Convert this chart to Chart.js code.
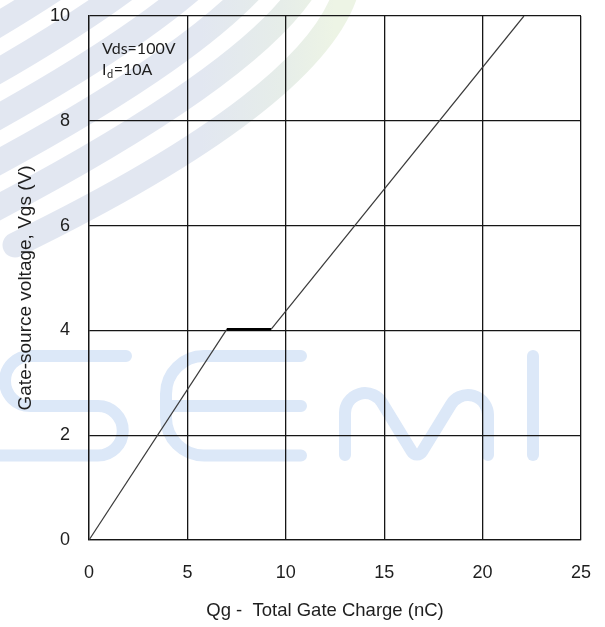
<!DOCTYPE html>
<html>
<head>
<meta charset="utf-8">
<script src="https://cdn.jsdelivr.net/npm/chart.js@4/dist/chart.umd.min.js"></script>
<style>
  html, body { margin: 0; padding: 0; background: #fff; }
  canvas { display: block; }
</style>
</head>
<body>
<canvas id="c" width="605" height="627"></canvas>
<script>
// Gate charge curve: Qg (nC) against Vgs (V), with the Miller plateau.
const gateCharge  = [0, 7.0, 9.25, 22.1];
const gateVoltage = [0, 4.02, 4.02, 10];
const xTicks = [0, 5, 10, 15, 20, 25];
const yTicks = [0, 2, 4, 6, 8, 10];
const xTitle = 'Qg -  Total Gate Charge (nC)';
const yTitle = 'Gate-source voltage, Vgs (V)';
const testLine1 = 'Vds=100V';
const testLine2 = ['I', 'd', '=10A'];

const FONT = '"Liberation Sans", Arial, sans-serif';
const INK = '#1e1e1e';
const GRID = '#161616';

// Faint company artwork behind the plot: swooshes and the "SEMI" letters.
const backdrop = {
  id: 'backdrop',
  beforeDraw(chart) {
    const ctx = chart.ctx;
    ctx.save();
    ctx.fillStyle = '#fff';
    ctx.fillRect(0, 0, chart.width, chart.height);

    const g = ctx.createLinearGradient(200, 0, 335, 0);
    g.addColorStop(0, '#e2e7f1');
    g.addColorStop(0.6, '#e6ede9');
    g.addColorStop(1, '#edf4e5');
    ctx.strokeStyle = g;
    ctx.lineWidth = 25;
    ctx.lineCap = 'round';
    for (let k = 0; k < 7; k++) {
      const dx = -28 * k, dy = -30 * k;
      const sx = k === 0 ? 15 : -90, sy = k === 0 ? 245 : 296;
      ctx.beginPath();
      ctx.moveTo(sx + dx, sy + dy);
      ctx.quadraticCurveTo(317 + dx, 98 + dy, 347 + dx, -12 + dy);
      ctx.stroke();
    }

    ctx.strokeStyle = '#dce8f8';
    ctx.lineWidth = 12;
    ctx.lineJoin = 'round';
    // S
    ctx.beginPath();
    ctx.moveTo(126, 356);
    ctx.lineTo(30, 356);
    ctx.arcTo(5, 356, 5, 381, 25);
    ctx.arcTo(5, 406, 30, 406, 25);
    ctx.lineTo(98, 406);
    ctx.arc(98, 430.75, 24.75, -Math.PI / 2, Math.PI / 2);
    ctx.lineTo(-10, 455.5);
    ctx.stroke();
    // E
    ctx.beginPath();
    ctx.moveTo(301, 356);
    ctx.arcTo(166, 356, 166, 406, 38);
    ctx.arcTo(166, 455.5, 301, 455.5, 38);
    ctx.lineTo(301, 455.5);
    ctx.moveTo(168, 406);
    ctx.lineTo(301, 406);
    ctx.stroke();
    // M
    ctx.beginPath();
    ctx.moveTo(345, 455);
    ctx.arcTo(345, 344, 417, 458, 20);
    ctx.arcTo(417, 460, 488, 344, 6);
    ctx.arcTo(488, 344, 488, 455, 20);
    ctx.lineTo(488, 455);
    ctx.stroke();
    // I
    ctx.beginPath();
    ctx.moveTo(533, 356);
    ctx.lineTo(533, 455);
    ctx.stroke();
    ctx.restore();
  }
};

// Test conditions inside the plot and the two axis titles.
const labels = {
  id: 'labels',
  afterDraw(chart) {
    const ctx = chart.ctx;
    const a = chart.chartArea;
    ctx.save();
    ctx.fillStyle = INK;
    ctx.textBaseline = 'alphabetic';
    ctx.textAlign = 'left';
    const tx = a.left + 13;
    ctx.font = '16px Lato, "Liberation Sans", sans-serif';
    ctx.fillText(testLine1, tx, a.top + 37.5);
    let x = tx;
    const by = a.top + 59;
    ctx.fillText(testLine2[0], x, by);
    x += ctx.measureText(testLine2[0]).width + 0.5;
    ctx.font = '11px Lato, "Liberation Sans", sans-serif';
    ctx.fillText(testLine2[1], x, by + 3);
    x += ctx.measureText(testLine2[1]).width + 0.5;
    ctx.font = '16px Lato, "Liberation Sans", sans-serif';
    ctx.fillText(testLine2[2], x, by);

    ctx.textAlign = 'center';
    ctx.textBaseline = 'middle';
    ctx.font = '18.5px ' + FONT;
    ctx.fillText(xTitle, (a.left + a.right) / 2 - 10, 611);

    ctx.translate(26, (a.top + a.bottom) / 2 + 10);
    ctx.rotate(-Math.PI / 2);
    ctx.font = '19px ' + FONT;
    ctx.fillText(yTitle, 0, 0);
    ctx.restore();
  }
};

new Chart(document.getElementById('c'), {
  type: 'scatter',
  data: {
    datasets: [{
      data: gateCharge.map((q, i) => ({ x: q, y: gateVoltage[i] })),
      showLine: true,
      borderColor: '#3a3a3a',
      borderWidth: 1.2,
      pointRadius: 0,
      segment: {
        borderWidth: c => (c.p0DataIndex === 1 ? 2.6 : 1.2),
        borderColor: c => (c.p0DataIndex === 1 ? '#000' : '#3a3a3a')
      }
    }]
  },
  options: {
    responsive: false,
    animation: false,
    devicePixelRatio: 1,
    layout: { padding: { top: 16, right: 24, bottom: 0, left: 0 } },
    plugins: { legend: { display: false }, tooltip: { enabled: false } },
    scales: {
      x: {
        type: 'linear',
        min: 0, max: 25,
        afterBuildTicks: s => { s.ticks = xTicks.map(v => ({ value: v })); },
        afterFit: s => { s.height = 87; s.paddingLeft = 0; s.paddingRight = 0; },
        grid: { color: GRID, lineWidth: 1.3, drawTicks: false },
        border: { color: GRID, width: 1.3 },
        ticks: { padding: 22, color: INK, maxRotation: 0, font: { family: FONT, size: 18 } }
      },
      y: {
        type: 'linear',
        min: 0, max: 10,
        afterBuildTicks: s => { s.ticks = yTicks.map(v => ({ value: v })); },
        afterFit: s => { s.width = 89; s.paddingTop = 0; s.paddingBottom = 0; },
        grid: { color: GRID, lineWidth: 1.3, drawTicks: false },
        border: { color: GRID, width: 1.3 },
        ticks: { padding: 19, color: INK, font: { family: FONT, size: 18 } }
      }
    }
  },
  plugins: [backdrop, labels]
});
</script>
</body>
</html>
